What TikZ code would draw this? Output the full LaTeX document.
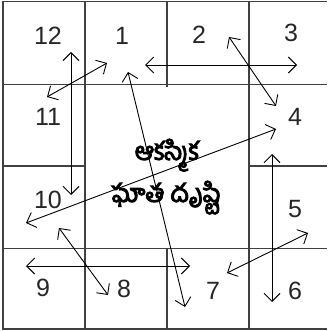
\documentclass[tikz,border=0pt]{standalone}
\usepackage{fontspec}
\setmainfont{Liberation Sans}
\newfontfamily\telugufont[Script=Telugu, FakeBold=4]{Hind Guntur}
\usepackage{tikz}
\usetikzlibrary{arrows.meta, positioning}
\definecolor{gridgray}{HTML}{404040}
\tikzset{
	gridline/.style={draw=gridgray, line width=1.3pt}
}
\tikzset{
	numtext/.style={font=\fontsize{25}{25}\selectfont, text=black!85, inner sep=0pt}
}
\tikzset{
	titletext/.style={font=\telugufont\fontsize{25}{25}\selectfont, anchor=base, inner sep=0pt}
}
\tikzset{
	dblarrow/.style={{Straight Barb[length=8pt,width=16pt]}-{Straight Barb[length=8pt,width=16pt]}, line width=0.9pt}
}

\begin{document}
\begin{tikzpicture}[x=1pt, y=-1pt]
\useasboundingbox (0,0) rectangle (327,331);

\draw[gridline] (327,1.5) -- (3,1.5) -- (3,329) -- (327,329);
\draw[gridline] (3,84.5) -- (327,84.5);
\draw[gridline] (3,248.5) -- (327,248.5);
\draw[gridline] (3,166) -- (85,166);
\draw[gridline] (249,166) -- (327,166);
\draw[gridline] (85,1.5) -- (85,329);
\draw[gridline] (249,1.5) -- (249,329);
\draw[gridline] (167,1.5) -- (167,87);
\draw[gridline] (167,248) -- (167,329);

\node[numtext] (n12) at (48,36) {12};
\node[numtext] (n1) at (122,36) {1};
\node[numtext] (n2) at (199,35) {2};
\node[numtext] (n3) at (291,33) {3};
\node[numtext] (n4) at (295,117) {4};
\node[numtext] (n5) at (295,209) {5};
\node[numtext] (n6) at (295,291) {6};
\node[numtext] (n7) at (213,291) {7};
\node[numtext] (n8) at (124,289) {8};
\node[numtext] (n9) at (43,288) {9};
\node[numtext] (n10) at (48,200) {10};
\node[numtext] (n11) at (48,117) {11};

\node[titletext] (title1) at (167,160) {ఆకస్మిక};
\node[titletext] (title2) at (166,202) {ఘాత దృష్టి};

\coordinate (aTwelve) at (71,52);
\coordinate (aTen) at (71,195);
\coordinate (aEleven) at (47,97);
\coordinate (aOneL) at (107,63);
\coordinate (aOneR) at (145,65);
\coordinate (aThree) at (297,65);
\coordinate (aOneB) at (128,72);
\coordinate (aSevenB) at (185,307);
\coordinate (aTwo) at (229,37);
\coordinate (aFourT) at (276,106);
\coordinate (aFourB) at (276,129);
\coordinate (aTenL) at (26,223);
\coordinate (aFourV) at (272,154);
\coordinate (aSix) at (272,302);
\coordinate (aFive) at (308,233);
\coordinate (aSevenR) at (227,273);
\coordinate (aTenB) at (59,228);
\coordinate (aEight) at (108,295);
\coordinate (aNine) at (26,266);
\coordinate (aSevenL) at (190,266);

\draw[dblarrow] (aTwelve) -- (aTen);
\draw[dblarrow] (aEleven) -- (aOneL);
\draw[dblarrow] (aOneR) -- (aThree);
\draw[dblarrow] (aOneB) -- (aSevenB);
\draw[dblarrow] (aTwo) -- (aFourT);
\draw[dblarrow] (aFourB) -- (aTenL);
\draw[dblarrow] (aFourV) -- (aSix);
\draw[dblarrow] (aFive) -- (aSevenR);
\draw[dblarrow] (aTenB) -- (aEight);
\draw[dblarrow] (aNine) -- (aSevenL);

\end{tikzpicture}
\end{document}
